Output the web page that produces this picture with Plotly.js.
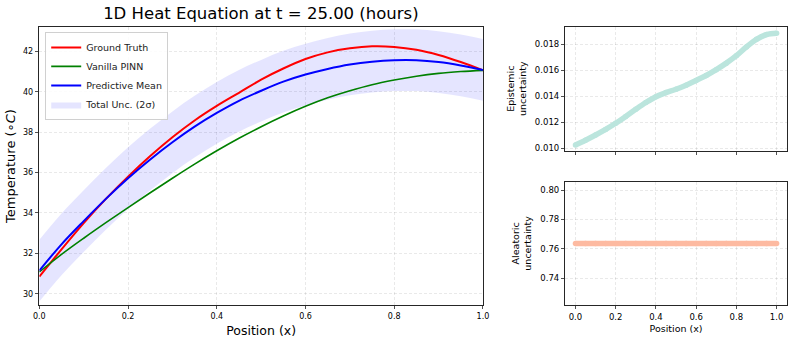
<!DOCTYPE html>
<html>
<head>
<meta charset="utf-8">
<script src="https://cdn.plot.ly/plotly-3.0.1.min.js"></script>
<style>
  html, body { margin: 0; padding: 0; background: #fff; }
  #plot { width: 793px; height: 343px; }
</style>
</head>
<body>
<div id="plot"></div>
<script>
// positions along the rod
var position = [0, 0.05, 0.1, 0.15, 0.2, 0.25, 0.3, 0.35, 0.4, 0.45, 0.5,
                0.55, 0.6, 0.65, 0.7, 0.75, 0.8, 0.85, 0.9, 0.95, 1.0];

// temperatures
var groundTruth = [30.85, 32.2, 33.5, 34.7, 35.8, 36.82, 37.75, 38.58, 39.3, 39.95, 40.6,
                   41.15, 41.62, 41.95, 42.15, 42.25, 42.22, 42.08, 41.82, 41.47, 41.06];
var vanillaPinn = [31.08, 31.95, 32.75, 33.52, 34.27, 35.0, 35.72, 36.42, 37.08, 37.7, 38.27,
                   38.8, 39.28, 39.7, 40.05, 40.35, 40.58, 40.77, 40.91, 41.0, 41.06];
var predMean    = [31.15, 32.45, 33.6, 34.7, 35.72, 36.65, 37.5, 38.27, 38.95, 39.55, 40.05,
                   40.5, 40.85, 41.13, 41.35, 41.49, 41.56, 41.56, 41.47, 41.3, 41.08];

// uncertainty components (std)
var epistemic = [0.01025, 0.01062, 0.01102, 0.01145, 0.01192, 0.01245, 0.0130, 0.01352, 0.01397, 0.01428, 0.01454,
                 0.01485, 0.01522, 0.0156, 0.01605, 0.01655, 0.01712, 0.0178, 0.01838, 0.01875, 0.01885];
var aleatoric = [0.7637, 0.7637, 0.7637, 0.7637, 0.7637, 0.7637, 0.7637, 0.7637, 0.7637, 0.7637, 0.7637,
                 0.7637, 0.7637, 0.7637, 0.7637, 0.7637, 0.7637, 0.7637, 0.7637, 0.7637, 0.7637];

// total std -> 2 sigma band around the predictive mean
var totalStd = aleatoric.map((a, i) => Math.sqrt(a * a + epistemic[i] * epistemic[i]));
var upper = predMean.map((m, i) => m + 2 * totalStd[i]);
var lower = predMean.map((m, i) => m - 2 * totalStd[i]);

var FONT = "DejaVu Sans, Arial, sans-serif";
var GRID = "rgba(0,0,0,0.11)";
var LINE = "#262626";

var bandLow = {
  x: position, y: lower, mode: "lines", line: {width: 0, shape: "spline"},
  showlegend: false, hoverinfo: "skip", xaxis: "x", yaxis: "y"
};
var bandHigh = {
  x: position, y: upper, mode: "lines", line: {width: 0, shape: "spline"},
  fill: "tonexty", fillcolor: "rgba(0,0,255,0.1)",
  name: "Total Unc. (2σ)", legendrank: 4, xaxis: "x", yaxis: "y"
};
var gt = {
  x: position, y: groundTruth, mode: "lines", name: "Ground Truth",
  line: {color: "#ff0000", width: 2, shape: "spline"}, legendrank: 1
};
var pinn = {
  x: position, y: vanillaPinn, mode: "lines", name: "Vanilla PINN",
  line: {color: "#008000", width: 1.6, shape: "spline"}, legendrank: 2
};
var mean = {
  x: position, y: predMean, mode: "lines", name: "Predictive Mean",
  line: {color: "#0000ff", width: 2, shape: "spline"}, legendrank: 3
};
var ep = {
  x: position, y: epistemic, mode: "lines+markers", showlegend: false,
  line: {color: "rgb(187,229,221)", width: 5.5, shape: "spline"},
  marker: {color: "rgb(187,229,221)", size: 5.5},
  xaxis: "x2", yaxis: "y2"
};
var ale = {
  x: position, y: aleatoric, mode: "lines+markers", showlegend: false,
  line: {color: "rgb(253,186,161)", width: 5.5},
  marker: {color: "rgb(253,186,161)", size: 5.5},
  xaxis: "x3", yaxis: "y3"
};

var data = [bandLow, bandHigh, gt, pinn, mean, ep, ale];

function axis(extra) {
  var base = {
    showgrid: true, gridcolor: GRID, griddash: "3px,2px", gridwidth: 0.8,
    showline: true, mirror: true, linecolor: LINE, linewidth: 1,
    ticks: "outside", ticklen: 3.5, tickwidth: 0.8, tickcolor: LINE,
    zeroline: false, tickfont: {family: FONT, size: 8, color: "#000"}
  };
  return Object.assign(base, extra);
}

var layout = {
  width: 793, height: 343,
  margin: {l: 0, r: 0, t: 0, b: 0},
  paper_bgcolor: "#fff", plot_bgcolor: "#fff",
  font: {family: FONT, color: "#000"},
  title: {
    text: "1D Heat Equation at t = 25.00 (hours)",
    font: {family: FONT, size: 16.5, color: "#000"},
    x: 0.329, xanchor: "center", y: 0.962, yanchor: "middle"
  },
  showlegend: true,
  legend: {
    x: 0.057, y: 0.907, xanchor: "left", yanchor: "top", traceorder: "normal",
    bgcolor: "rgba(255,255,255,0.85)", bordercolor: "#d0d0d0", borderwidth: 1,
    font: {family: FONT, size: 9.5, color: "#222"}
  },
  xaxis: axis({
    domain: [0.0496, 0.609], range: [0, 1], tickvals: [0, 0.2, 0.4, 0.6, 0.8, 1.0],
    tickformat: ".1f", anchor: "y",
    title: {text: "Position (x)", font: {family: FONT, size: 12.5}, standoff: 6}
  }),
  yaxis: axis({
    domain: [0.111, 0.921], range: [29.45, 43.2], tickvals: [30, 32, 34, 36, 38, 40, 42],
    anchor: "x",
    title: {text: "Temperature (∘<i>C</i>)", font: {family: FONT, size: 13}, standoff: 4}
  }),
  xaxis2: axis({
    domain: [0.713, 0.992], range: [-0.05, 1.05], tickvals: [0, 0.2, 0.4, 0.6, 0.8, 1.0],
    showticklabels: false, anchor: "y2"
  }),
  yaxis2: axis({
    domain: [0.561, 0.922], range: [0.00982, 0.01935],
    tickvals: [0.010, 0.012, 0.014, 0.016, 0.018], tickformat: ".3f", anchor: "x2",
    tickfont: {family: FONT, size: 8.5, color: "#000"},
    title: {text: "Epistemic<br>uncertainty", font: {family: FONT, size: 9.5}, standoff: 6}
  }),
  xaxis3: axis({
    domain: [0.713, 0.992], range: [-0.05, 1.05], tickvals: [0, 0.2, 0.4, 0.6, 0.8, 1.0],
    tickformat: ".1f", anchor: "y3",
    tickfont: {family: FONT, size: 8.5, color: "#000"},
    title: {text: "Position (x)", font: {family: FONT, size: 9.5}, standoff: 4}
  }),
  yaxis3: axis({
    domain: [0.111, 0.470], range: [0.7218, 0.8057],
    tickvals: [0.74, 0.76, 0.78, 0.80], tickformat: ".2f", anchor: "x3",
    tickfont: {family: FONT, size: 8.5, color: "#000"},
    title: {text: "Aleatoric<br>uncertainty", font: {family: FONT, size: 9.5}, standoff: 6}
  })
};

Plotly.newPlot("plot", data, layout, {staticPlot: true, displayModeBar: false});
</script>
</body>
</html>
